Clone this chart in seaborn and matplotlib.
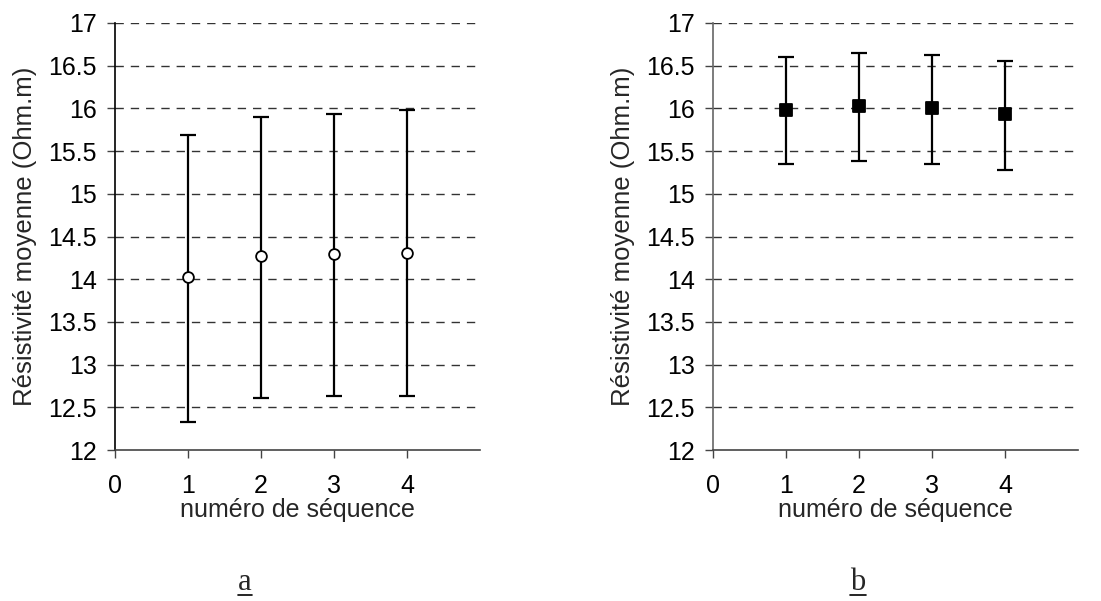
import seaborn as sns
import matplotlib.pyplot as plt
import pandas as pd
from matplotlib.lines import Line2D

# séquences
sequences = [1, 2, 3, 4]

# panneau a : moyenne et bornes
moy_a = [14.03, 14.27, 14.29, 14.31]
haut_a = [15.69, 15.90, 15.93, 15.98]
bas_a = [12.33, 12.61, 12.63, 12.63]

# panneau b
moy_b = [15.98, 16.03, 16.01, 15.93]
haut_b = [16.60, 16.65, 16.62, 16.55]
bas_b = [15.35, 15.38, 15.35, 15.28]

y_ticks = [12, 12.5, 13, 13.5, 14, 14.5, 15, 15.5, 16, 16.5, 17]
y_tick_labels = ['12', '12.5', '13', '13.5', '14', '14.5', '15', '15.5', '16', '16.5', '17']
x_ticks = [0, 1, 2, 3, 4]

sns.set_style('white')
plt.rcParams['font.family'] = ['Liberation Sans', 'DejaVu Sans']

fig = plt.figure(figsize=(11.01, 6.01), dpi=100)
ax_a = fig.add_axes([115 / 1101, 1 - 450 / 601, 365 / 1101, 427 / 601])
ax_b = fig.add_axes([713 / 1101, 1 - 450 / 601, 365 / 1101, 427 / 601])


def draw(ax, moy, haut, bas, marker, face, size, spine_col):
    df = pd.DataFrame({'seq': sequences, 'moy': moy, 'haut': haut, 'bas': bas})
    err = [df['moy'] - df['bas'], df['haut'] - df['moy']]
    ax.errorbar(df['seq'], df['moy'], yerr=err, fmt='none', ecolor='black',
                elinewidth=1.6, capsize=5.5, capthick=1.6, zorder=3)
    sns.scatterplot(data=df, x='seq', y='moy', ax=ax, marker=marker, s=size,
                    color=face, edgecolor='black', linewidth=1.3, zorder=4)
    ax.set_xlim(0, 5)
    ax.set_ylim(12, 17)
    ax.set_xticks(x_ticks)
    ax.set_xticklabels([str(t) for t in x_ticks], fontsize=18)
    ax.set_yticks(y_ticks)
    ax.set_yticklabels(y_tick_labels, fontsize=18)
    for y in y_ticks[1:]:
        ax.axhline(y, color='#333333', lw=1.0, ls=(0, (6, 5)), zorder=1)
    ax.spines['top'].set_visible(False)
    ax.spines['right'].set_visible(False)
    ax.spines['left'].set_color(spine_col)
    ax.spines['bottom'].set_color('#444444')
    ax.spines['left'].set_linewidth(1.2)
    ax.spines['bottom'].set_linewidth(1.2)
    ax.tick_params(axis='both', direction='out', length=6, width=1.0,
                   color='#444444', labelcolor='black', labelsize=18,
                   left=True, bottom=True)
    ax.tick_params(axis='y', pad=7)
    ax.tick_params(axis='x', pad=11)
    ax.set_xlabel('numéro de séquence', fontsize=18, labelpad=0)
    ax.set_ylabel('Résistivité moyenne (Ohm.m)', fontsize=18.5, labelpad=8)


draw(ax_a, moy_a, haut_a, bas_a, 'o', 'white', 60, 'black')
draw(ax_b, moy_b, haut_b, bas_b, 's', 'black', 85, '#666666')

# étiquettes soulignées a / b
fig.canvas.draw()
renderer = fig.canvas.get_renderer()
for lab, xc in [('a', 245 / 1101), ('b', 858 / 1101)]:
    t = fig.text(xc, 1 - 590 / 601, lab, ha='center', va='baseline',
                 fontsize=22, family=['Liberation Serif', 'DejaVu Serif'])
    bb = t.get_window_extent(renderer=renderer)
    y_u = (601 - 595) / 601
    fig.add_artist(Line2D([bb.x0 / 1101, bb.x1 / 1101], [y_u, y_u],
                          color='black', lw=1.2, transform=fig.transFigure))

fig.savefig('out.png', dpi=100)
